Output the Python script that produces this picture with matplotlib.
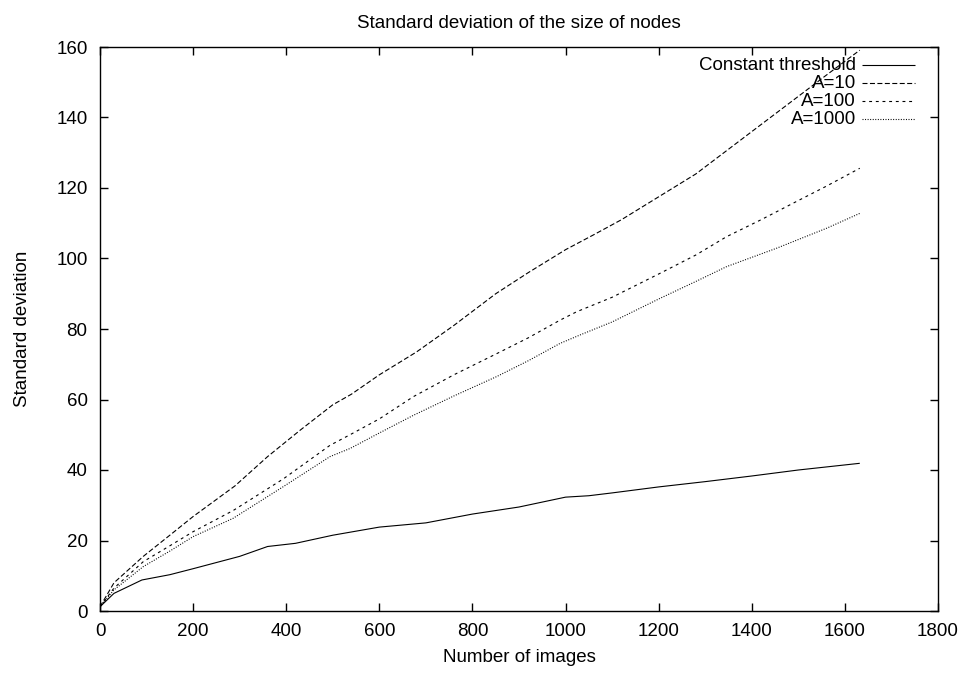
import matplotlib
matplotlib.use('Agg')
import matplotlib.pyplot as plt

plt.rcParams['font.family'] = ['Liberation Sans', 'DejaVu Sans']

# Constant threshold
ct_x = [0, 30, 90, 150, 200, 300, 360, 420, 500, 600, 700, 800, 900, 1000, 1050, 1100, 1200, 1300, 1400, 1500, 1632]
ct_y = [1.2, 5, 8.8, 10.3, 12, 15.5, 18.3, 19.2, 21.5, 23.8, 25, 27.5, 29.5, 32.3, 32.7, 33.5, 35.2, 36.7, 38.3, 40, 41.9]

# A=10
a10_x = [0, 30, 93, 150, 200, 290, 360, 430, 500, 540, 600, 680, 760, 850, 920, 1000, 1060, 1120, 1200, 1280, 1350, 1420, 1490, 1560, 1632]
a10_y = [1.2, 8, 15.5, 21.5, 26.8, 35.5, 43.8, 51.3, 58.5, 61.5, 67, 73.5, 81, 90, 96, 102.5, 106.7, 111, 117.5, 124, 131, 138, 145, 152, 159.1]

# A=100
a100_x = [0, 30, 93, 150, 200, 286, 394, 494, 537, 600, 673, 760, 852, 920, 988, 1024, 1100, 1203, 1280, 1346, 1420, 1489, 1560, 1632]
a100_y = [1.2, 6.5, 14, 18.5, 22.5, 28.5, 37.5, 47, 50, 54.5, 60.8, 67, 73, 77.5, 82.5, 84.9, 89, 95.8, 101, 106.2, 111, 115.7, 120.5, 125.6]

# A=1000
a1000_x = [0, 30, 93, 150, 200, 286, 394, 494, 537, 600, 673, 760, 852, 920, 988, 1031, 1100, 1203, 1280, 1346, 1453, 1561, 1632]
a1000_y = [1.2, 6, 12.6, 17, 21.1, 26.3, 35.3, 43.8, 46.1, 50.5, 55.5, 61, 66.5, 71, 75.9, 78.3, 82, 88.7, 93.5, 97.7, 102.9, 108.6, 112.8]

labels = ['Constant threshold', 'A=10', 'A=100', 'A=1000']
styles = [(0, ()), (0, (4.5, 2.2)), (0, (2.6, 3.4)), (0, (0.9, 1.4))]
fs = 13.5

fig = plt.figure(figsize=(9.64, 6.73), dpi=100)
ax = fig.add_axes([100/964, 1-611/673, 838/964, 564/673])

series = [(ct_x, ct_y), (a10_x, a10_y), (a100_x, a100_y), (a1000_x, a1000_y)]
for (xs, ys), ls in zip(series, styles):
    ax.plot(xs, ys, color='black', lw=0.8, linestyle=ls)

ax.set_xlim(0, 1800)
ax.set_ylim(0, 160)
ax.set_xticks(range(0, 1801, 200))
ax.set_yticks(range(0, 161, 20))
ax.tick_params(direction='in', length=6, width=1, top=True, right=True, labelsize=fs)
ax.tick_params(axis='y', pad=9)
ax.tick_params(axis='x', pad=9)
for sp in ax.spines.values():
    sp.set_linewidth(1)

ax.set_title('Standard deviation of the size of nodes', fontsize=fs, pad=14)
ax.set_xlabel('Number of images', fontsize=fs, labelpad=6)
ax.set_ylabel('Standard deviation', fontsize=fs, labelpad=18)

# gnuplot-like legend: right-aligned labels, samples on the right
rows = [0.968, 0.936, 0.904, 0.872]
for lab, ls, yy in zip(labels, styles, rows):
    ax.text(0.902, yy, lab, transform=ax.transAxes, ha='right', va='center', fontsize=fs)
    ax.plot([0.909, 0.9726], [yy, yy], transform=ax.transAxes, color='black', lw=0.8, linestyle=ls)

fig.savefig('out.png', dpi=100)
